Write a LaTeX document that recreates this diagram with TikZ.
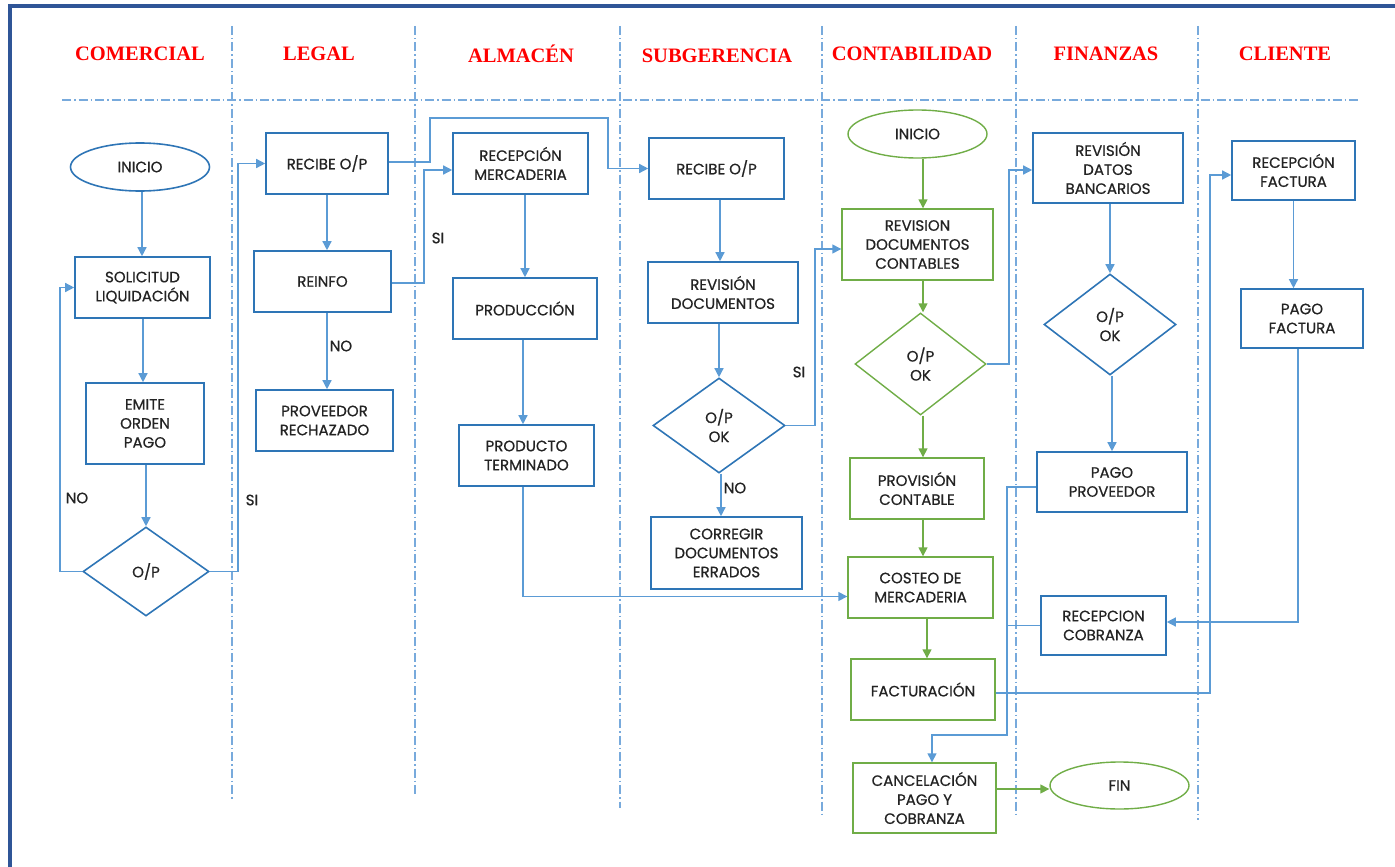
\documentclass[tikz,border=0pt]{standalone}
\usepackage{fontspec}
\setmainfont{Poppins}
\newfontfamily\boxfont{Poppins}[FakeBold=0.7]
\newfontfamily\headfont{Liberation Serif}
\usetikzlibrary{shapes.geometric,arrows.meta}

\definecolor{boxblue}{RGB}{46,117,182}
\definecolor{linkblue}{RGB}{91,155,213}
\definecolor{lanec}{RGB}{120,170,220}
\definecolor{flowgreen}{RGB}{112,173,71}
\definecolor{framec}{RGB}{47,85,151}
\definecolor{headred}{RGB}{255,0,0}
\definecolor{txt}{RGB}{35,35,35}

\tikzset{
  sz/.style 2 args={minimum width=#1pt, minimum height=#2pt},
  lane/.style={draw=lanec, line width=1.4pt, dash pattern=on 9pt off 3pt on 1.5pt off 3pt},
  procbox/.style={draw=boxblue, line width=1.6pt, rectangle, align=center, inner sep=1pt,
                  font=\boxfont\fontsize{15}{19}\selectfont, text=txt},
  gbox/.style={procbox, draw=flowgreen, line width=1.4pt},
  term/.style={procbox, ellipse},
  gterm/.style={gbox, ellipse},
  dec/.style={procbox, diamond, inner sep=0pt},
  gdec/.style={gbox, diamond, inner sep=0pt},
  link/.style={draw=linkblue, line width=1.4pt},
  conn/.style={link, -{Triangle[length=9pt,width=9pt]}},
  gconn/.style={conn, draw=flowgreen},
  lbl/.style={font=\boxfont\fontsize{15}{17}\selectfont, text=txt, inner sep=0pt},
  head/.style={font=\headfont\bfseries\fontsize{20.5}{23}\selectfont, text=headred}
}

\begin{document}
\begin{tikzpicture}[x=1pt,y=-1pt]
\useasboundingbox (0,0) rectangle (1395,867);

% outer frame (top and left edges)
\draw[framec, line width=3.6pt] (10,867) -- (10,6) -- (1395,6);

% swimlane headings
\node[head] (hCom) at (140,54) {COMERCIAL};
\node[head] (hLeg) at (319,54) {LEGAL};
\node[head] (hAlm) at (521,54) {ALMACÉN};
\node[head] (hSub) at (717,56) {SUBGERENCIA};
\node[head] (hCon) at (912,54) {CONTABILIDAD};
\node[head] (hFin) at (1106,54) {FINANZAS};
\node[head] (hCli) at (1285,54) {CLIENTE};

% swimlane separators
\draw[lane] (62,100) -- (1360,100);
\foreach \x/\b in {232/800, 415/797, 620/808, 822/815, 1016/818, 1198/820}
  \draw[lane] (\x,26) -- (\x,\b);

% ---- COMERCIAL
\node[term, sz={139}{48}] (ini1) at (140,167) {INICIO};
\node[procbox, sz={135}{61}] (solic) at (142.5,287.5) {SOLICITUD\\LIQUIDACIÓN};
\node[procbox, sz={118}{81}] (emite) at (145,423.5) {EMITE\\ORDEN\\PAGO};
\node[dec, sz={126}{89}] (op1) at (146,571.5) {O/P};

% ---- LEGAL
\node[procbox, sz={122}{61}] (rec1) at (327,163.5) {RECIBE O/P};
\node[procbox, sz={137}{61}] (reinfo) at (322.5,281.5) {REINFO};
\node[procbox, sz={137}{61}] (rechaz) at (324.5,420.5) {PROVEEDOR\\RECHAZADO};

% ---- ALMACEN
\node[procbox, sz={135}{61}] (recmerc) at (520.5,163.5) {RECEPCIÓN\\MERCADERIA};
\node[procbox, sz={144}{61}] (produc) at (525,308.5) {PRODUCCIÓN};
\node[procbox, sz={135}{61}] (prodter) at (526.5,455.5) {PRODUCTO\\TERMINADO};

% ---- SUBGERENCIA
\node[procbox, sz={135}{61}] (rec2) at (716.5,168.5) {RECIBE O/P};
\node[procbox, sz={150}{61}] (revdoc) at (723,292.5) {REVISIÓN\\DOCUMENTOS};
\node[dec, sz={132}{95}] (op2) at (719,425.5) {O/P\\OK};
\node[procbox, sz={151}{72}] (correg) at (726.5,553) {CORREGIR\\DOCUMENTOS\\ERRADOS};

% ---- CONTABILIDAD
\node[gterm, sz={139}{48}] (ini2) at (917.5,134) {INICIO};
\node[gbox, sz={151}{71}] (revcont) at (917.5,244.5) {REVISION\\DOCUMENTOS\\CONTABLES};
\node[gdec, sz={131}{102}] (op3) at (920.5,364) {O/P\\OK};
\node[gbox, sz={134}{61}] (provis) at (917,488.5) {PROVISIÓN\\CONTABLE};
\node[gbox, sz={145}{61}] (costeo) at (920.5,587.5) {COSTEO DE\\MERCADERIA};
\node[gbox, sz={144}{61}] (factur) at (923,689.5) {FACTURACIÓN};
\node[gbox, sz={143}{70}] (cancel) at (924.5,798) {CANCELACIÓN\\PAGO Y\\COBRANZA};
\node[gterm, sz={139}{47}] (fin) at (1119.5,785.5) {FIN};

% ---- FINANZAS
\node[procbox, sz={150}{70}] (revban) at (1108,168) {REVISIÓN\\DATOS\\BANCARIOS};
\node[dec, sz={132}{101}] (op4) at (1110,324.5) {O/P\\OK};
\node[procbox, sz={150}{60}] (pagoprov) at (1112,482) {PAGO\\PROVEEDOR};
\node[procbox, sz={125}{59}] (reccob) at (1103.5,625.5) {RECEPCION\\COBRANZA};

% ---- CLIENTE
\node[procbox, sz={123}{59}] (recfact) at (1293.5,170.5) {RECEPCIÓN\\FACTURA};
\node[procbox, sz={122}{59}] (pagofact) at (1302,318.5) {PAGO\\FACTURA};

% ---- bend points of the routed connectors
\coordinate (bNo1) at (60,400);
\coordinate (bSi1) at (238,400);
\coordinate (bSi2) at (424,230);
\coordinate (bTop1) at (430,118);
\coordinate (bTop2) at (608,118);
\coordinate (bSi3) at (815,330);
\coordinate (bOk3) at (1009,300);
\coordinate (bFac) at (1210,400);
\coordinate (bPay1) at (1007,735);
\coordinate (bPay2) at (932,735);
\coordinate (gcol) at (923,0);

% ---- COMERCIAL flow
\draw[conn] ([xshift=2pt]ini1.south) -- ([xshift=2pt]ini1.south |- solic.north);
\draw[conn] ([xshift=0.5pt]solic.south) -- ([xshift=0.5pt]solic.south |- emite.north);
\draw[conn] (op1.north |- emite.south) -- (op1.north);
\draw[conn] (op1.west) -| (bNo1) |- (solic.west);
\node[lbl] (tNo1) at (77,498) {NO};
\draw[conn] (op1.east) -| (bSi1) |- (rec1.west);
\node[lbl] (tSi1) at (252,500) {SI};

% ---- LEGAL flow
\draw[conn] (rec1.south) -- (rec1.south |- reinfo.north);
\draw[conn] (reinfo.south -| rec1.south) -- (rechaz.north -| rec1.south);
\node[lbl] (tNo2) at (341,346) {NO};
\draw[conn] ([yshift=-1.5pt]reinfo.east) -| (bSi2) |- ([yshift=-6.5pt]recmerc.west);
\node[lbl] (tSi2) at (438,238) {SI};
\draw[conn] ([yshift=1.5pt]rec1.east) -| (bTop1) -- (bTop2) |- (rec2.west);

% ---- ALMACEN flow
\draw[conn] (produc.north |- recmerc.south) -- (produc.north);
\draw[conn] ([xshift=-3.5pt]prodter.north |- produc.south) -- ([xshift=-3.5pt]prodter.north);
\draw[conn] ([xshift=-3.5pt]prodter.south) |- ([yshift=-9pt]costeo.west);

% ---- SUBGERENCIA flow
\draw[conn] ([xshift=3.5pt]rec2.south) -- ([xshift=3.5pt]rec2.south |- revdoc.north);
\draw[conn] (op2.north |- revdoc.south) -- (op2.north);
\draw[conn] ([xshift=2pt]op2.south) -- ([xshift=2pt]op2.south |- correg.north);
\node[lbl] (tNo3) at (735,488) {NO};
\draw[conn] (op2.east) -| (bSi3) |- ([yshift=-4.5pt]revcont.west);
\node[lbl] (tSi3) at (799,372) {SI};

% ---- CONTABILIDAD flow
\draw[gconn] (ini2.south -| gcol) -- (revcont.north -| gcol);
\draw[gconn] (revcont.south -| gcol) -- (op3.north -| gcol);
\draw[gconn] (op3.south -| gcol) -- (provis.north -| gcol);
\draw[gconn] (provis.south -| gcol) -- (costeo.north -| gcol);
\draw[gconn] ([xshift=4pt]costeo.south -| gcol) -- ([xshift=4pt]factur.north -| gcol);
\draw[gconn] ([yshift=9pt]cancel.east) -- ([yshift=9pt]cancel.east -| fin.west);
\draw[conn] (op3.east) -| (bOk3) |- ([yshift=-2pt]revban.west);
\draw[conn] ([yshift=-3.5pt]factur.east) -| (bFac) |- ([yshift=-4.5pt]recfact.west);

% ---- FINANZAS flow
\draw[conn] (op4.north |- revban.south) -- (op4.north);
\draw[conn] (pagoprov.north |- op4.south) -- (pagoprov.north);
\draw[conn] ([yshift=-5pt]pagoprov.west) -| (bPay1) -- (bPay2) -- ([xshift=7.5pt]cancel.north);
\draw[link] (reccob.west) -- (reccob.west -| bPay1);

% ---- CLIENTE flow
\draw[conn] (recfact.south) -- (recfact.south |- pagofact.north);
\draw[conn] ([xshift=-4pt]pagofact.south) |- ([yshift=3.5pt]reccob.east);
\end{tikzpicture}
\end{document}
